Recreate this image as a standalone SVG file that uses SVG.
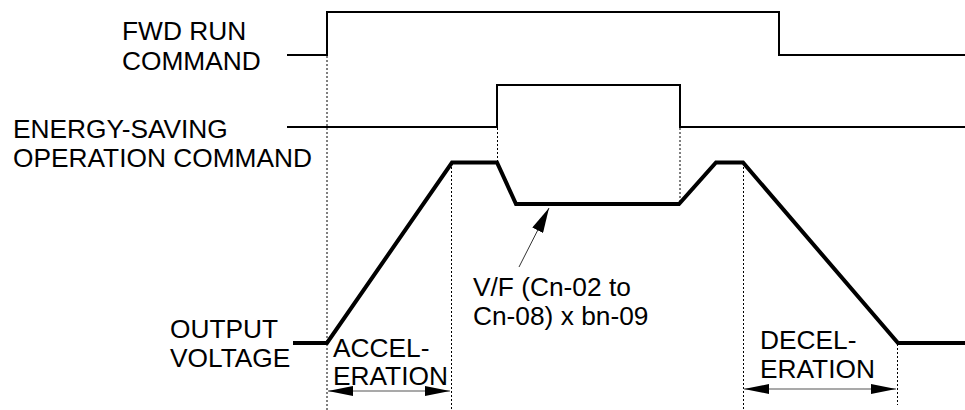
<svg xmlns="http://www.w3.org/2000/svg" width="965" height="410" viewBox="0 0 965 410">
<style>
text{font-family:"Liberation Sans",Arial,sans-serif;font-size:26.3px;fill:#000}
.sig{fill:none;stroke:#000;stroke-width:2}
.out{fill:none;stroke:#000;stroke-width:4;stroke-linejoin:miter}
.dash{fill:none;stroke:#000;stroke-width:1;stroke-dasharray:2 2}
.dim{fill:none;stroke:#555;stroke-width:1.2}
</style>
<defs>
<marker id="ah" viewBox="0 0 25 10" refX="25" refY="5" markerWidth="25" markerHeight="10" markerUnits="userSpaceOnUse" orient="auto-start-reverse">
<path d="M0,0 L25,5 L0,10 Z" fill="#000"/>
</marker>
<marker id="ap" viewBox="0 0 25 12" refX="25" refY="6" markerWidth="25" markerHeight="12" markerUnits="userSpaceOnUse" orient="auto">
<path d="M0,0 L25,6 L0,12 Z" fill="#000"/>
</marker>
</defs>
<g id="fwd-run">
<text x="122" y="40">FWD RUN</text>
<text x="122" y="70">COMMAND</text>
<path class="sig" d="M287,55 H327 V12 H779 V55 H965"/>
</g>
<g id="energy-saving">
<text x="13" y="138">ENERGY-SAVING</text>
<text x="13" y="167">OPERATION COMMAND</text>
<path class="sig" d="M287,127 H497 V85 H680 V127 H965"/>
</g>
<g id="output-voltage">
<text x="170" y="338">OUTPUT</text>
<text x="170" y="367">VOLTAGE</text>
<path class="out" d="M293,343 H327 L452,162.5 H497 L516,204 H679 L716,162.5 H743 L898,343 H965"/>
</g>
<g id="vf-label">
<text x="473" y="296">V/F (Cn-02 to</text>
<text x="473" y="325">Cn-08) x bn-09</text>
</g>
<g id="acceleration">
<text x="333" y="357">ACCEL-</text>
<text x="333" y="385">ERATION</text>
</g>
<g id="deceleration">
<text x="760" y="349">DECEL-</text>
<text x="760" y="378">ERATION</text>
</g>
<g id="connectors">
<line class="dash" x1="327" y1="56" x2="327" y2="410"/>
<line class="dash" x1="451.5" y1="163" x2="451.5" y2="410"/>
<line class="dash" x1="497.5" y1="128" x2="497.5" y2="162"/>
<line class="dash" x1="680" y1="128" x2="680" y2="204"/>
<line class="dash" x1="743.5" y1="163" x2="743.5" y2="410"/>
<line class="dash" x1="897.5" y1="344" x2="897.5" y2="405"/>
<line class="dim" x1="328" y1="391" x2="450" y2="391" marker-start="url(#ah)" marker-end="url(#ah)"/>
<line class="dim" x1="744" y1="389" x2="896" y2="389" marker-start="url(#ah)" marker-end="url(#ah)"/>
<line stroke="#333" stroke-width="1" x1="519" y1="267" x2="549" y2="208" marker-end="url(#ap)"/>
</g>
</svg>
